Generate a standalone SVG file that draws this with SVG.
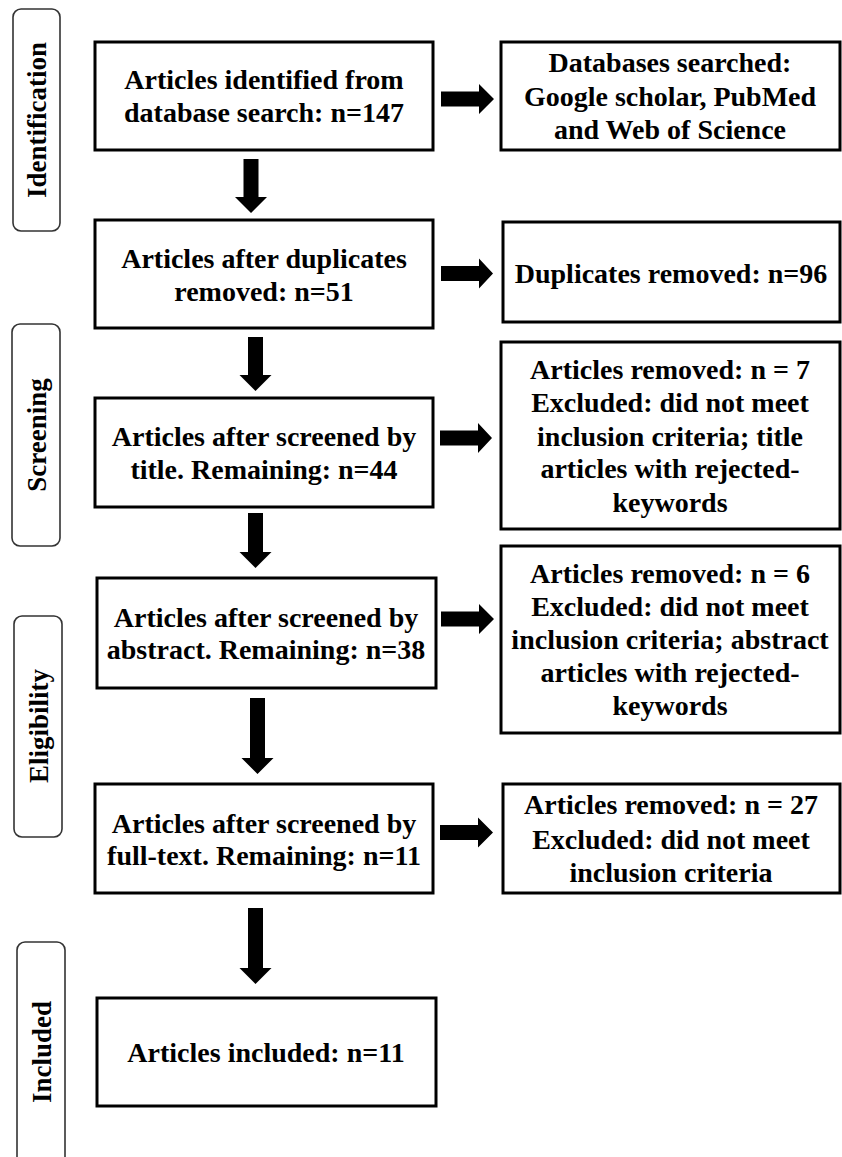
<svg xmlns="http://www.w3.org/2000/svg" width="842" height="1157" viewBox="0 0 842 1157">
<style>
.box{fill:#fff;stroke:#000;stroke-width:3}
.lab{fill:#fff;stroke:#333;stroke-width:1.6}
.t{font-family:"Liberation Serif","Times New Roman",serif;font-weight:bold;font-size:28px;text-anchor:middle;fill:#000}
.lt{font-family:"Liberation Serif","Times New Roman",serif;font-weight:bold;font-size:27px;text-anchor:middle;fill:#000}
.arr{fill:#000}
</style>
<rect width="842" height="1157" fill="#fff"/>
<g id="label-identification"><rect class="lab" x="13" y="9" width="47" height="222" rx="8"/><text class="lt" transform="translate(46,120) rotate(-90)">Identification</text></g>
<g id="label-screening"><rect class="lab" x="12" y="324" width="48" height="222" rx="8"/><text class="lt" transform="translate(45.5,435) rotate(-90)">Screening</text></g>
<g id="label-eligibility"><rect class="lab" x="14" y="616" width="48" height="221" rx="8"/><text class="lt" transform="translate(47.5,726) rotate(-90)">Eligibility</text></g>
<g id="label-included"><rect class="lab" x="17" y="942" width="48" height="230" rx="8"/><text class="lt" transform="translate(51,1052) rotate(-90)">Included</text></g>

<g id="n1"><rect class="box" x="95" y="42" width="338" height="108"/><text class="t" x="264" y="89">Articles identified from</text><text class="t" x="264" y="122">database search: n=147</text></g>
<g id="n2"><rect class="box" x="95" y="220" width="338" height="108"/><text class="t" x="264" y="268">Articles after duplicates</text><text class="t" x="264" y="301">removed: n=51</text></g>
<g id="n3"><rect class="box" x="95" y="398" width="338" height="109"/><text class="t" x="264" y="446">Articles after screened by</text><text class="t" x="264" y="479">title. Remaining: n=44</text></g>
<g id="n4"><rect class="box" x="97" y="578" width="339" height="110"/><text class="t" x="266" y="627">Articles after screened by</text><text class="t" x="266" y="659">abstract. Remaining: n=38</text></g>
<g id="n5"><rect class="box" x="95" y="784" width="338" height="109"/><text class="t" x="264" y="833">Articles after screened by</text><text class="t" x="264" y="865">full-text. Remaining: n=11</text></g>
<g id="n6"><rect class="box" x="97" y="998" width="339" height="108"/><text class="t" x="266" y="1062">Articles included: n=11</text></g>

<g id="r1"><rect class="box" x="501" y="42" width="339" height="108"/><text class="t" x="670" y="72">Databases searched:</text><text class="t" x="670" y="106">Google scholar, PubMed</text><text class="t" x="670" y="139">and Web of Science</text></g>
<g id="r2"><rect class="box" x="503" y="222" width="337" height="100"/><text class="t" x="671" y="283">Duplicates removed: n=96</text></g>
<g id="r3"><rect class="box" x="501" y="342" width="339" height="187"/><text class="t" x="670" y="379">Articles removed: n = 7</text><text class="t" x="670" y="412">Excluded: did not meet</text><text class="t" x="670" y="446">inclusion criteria; title</text><text class="t" x="670" y="478">articles with rejected-</text><text class="t" x="670" y="512">keywords</text></g>
<g id="r4"><rect class="box" x="501" y="546" width="339" height="187"/><text class="t" x="670" y="583">Articles removed: n = 6</text><text class="t" x="670" y="616">Excluded: did not meet</text><text class="t" x="670" y="649">inclusion criteria; abstract</text><text class="t" x="670" y="682">articles with rejected-</text><text class="t" x="670" y="715">keywords</text></g>
<g id="r5"><rect class="box" x="503" y="784" width="337" height="109"/><text class="t" x="671" y="814">Articles removed: n = 27</text><text class="t" x="671" y="849">Excluded: did not meet</text><text class="t" x="671" y="882">inclusion criteria</text></g>

<g id="connectors" class="arr">
<polygon points="441,91.5 479,91.5 479,84 494,99 479,114 479,106.5 441,106.5"/>
<polygon points="441,266 479,266 479,258.5 493,273.5 479,288.5 479,281 441,281"/>
<polygon points="440,430.5 478,430.5 478,423 492,438 478,453 478,445.5 440,445.5"/>
<polygon points="441,611.5 479,611.5 479,604 494,619 479,634 479,626.5 441,626.5"/>
<polygon points="440,825 478,825 478,817.5 493,832.5 478,847.5 478,840 440,840"/>
<polygon points="243.5,159 258.5,159 258.5,197 267,197 251,213 235,197 243.5,197"/>
<polygon points="248,337 263,337 263,375 271.5,375 255.5,391 239.5,375 248,375"/>
<polygon points="248,513 263,513 263,552 271.5,552 255.5,568 239.5,552 248,552"/>
<polygon points="250,698 265,698 265,758 273.5,758 257.5,774 241.5,758 250,758"/>
<polygon points="248,908 263,908 263,968 271.5,968 255.5,984 239.5,968 248,968"/>
</g>
</svg>
